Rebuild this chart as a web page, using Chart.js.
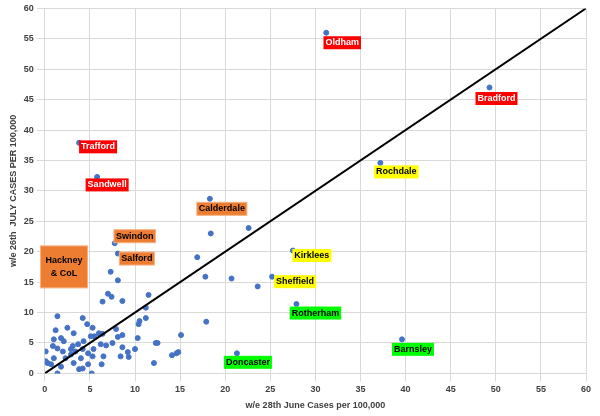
<!DOCTYPE html>
<html><head><meta charset="utf-8">
<script src="https://cdn.jsdelivr.net/npm/chart.js@4"></script>
<style>body{margin:0;background:#fff}#w{width:600px;height:416px}</style>
</head><body><div id="w"><canvas id="c"></canvas></div>
<script>
const xVals=[31.2,49.3,3.8,5.8,37.2,18.3,7.75,8.1,1.8,27.5,25.2,27.9,21.3,39.6,
18.4,22.6,16.9,17.8,20.7,23.6,17.9,15.1,14.6,14.1,12.3,12.1,11.5,11.2,10.5,
7.3,8.1,7.0,7.4,6.4,8.6,11.2,10.4,10.3,12.5,14.8,4.2,1.4,1.2,2.5,3.2,4.7,5.3,5.1,5.5,6.4,7.9,8.1,8.6,7.5,8.6,9.2,9.3,8.4,10.0,6.2,6.8,6.5,6.3,5.2,4.2,3.8,4.8,5.3,5.4,4.3,3.7,3.1,2.1,1.8,1.0,0.9,0.1,0.1,0.7,1.4,1.8,2.3,2.9,3.2,4.0,2.0,1.4,2.9,3.4,4.2,1.0,0.3,6.0,4.8];
const yVals=[56,47,37.9,32.3,34.6,28.7,21.4,19.7,15.7,20.2,15.9,11.4,3.3,5.6,
23,23.9,19.1,15.9,15.6,14.3,8.5,6.3,3.3,3.0,5.0,1.7,12.9,10.8,8.6,
16.7,15.3,13.1,12.6,11.8,11.9,9.1,8.1,5.8,5.0,3.5,9.1,9.4,7.1,7.5,6.6,8.1,7.5,6.1,6.1,6.5,7.3,6.0,6.3,5.0,4.3,3.5,2.7,2.8,4.0,4.8,4.6,2.8,1.5,0,0.8,0.7,1.5,2.8,4.0,5.3,4.8,4.5,5.3,5.8,5.6,4.5,3.6,2.0,1.5,0,1.1,2.5,3.1,1.7,2.5,3.6,4.1,4.0,3.6,4.0,2.5,1.7,6.6,3.3];
const labelNames=["Oldham","Bradford","Trafford","Sandwell","Rochdale","Calderdale","Swindon","Salford","Hackney\n& CoL","Kirklees","Sheffield","Rotherham","Doncaster","Barnsley"];
const labelFill=["#ff0000","#ff0000","#ff0000","#ff0000","#ffff00","#ed7d31","#ed7d31","#ed7d31","#ed7d31","#ffff00","#ffff00","#00ff00","#00ff00","#00ff00"];
const labelText=["#fff","#fff","#fff","#fff","#000","#000","#000","#000","#000","#000","#000","#000","#000","#000"];
const labelDx=[16,7,19,10,16,12,20,19,3,19,23,19,11,11];
const labelDy=[10,11,4,8,9,10,-7,5,-11,5,5,9,9,10];
const ticks=[0,5,10,15,20,25,30,35,40,45,50,55,60];
const pts=xVals.map((x,i)=>({x,y:yVals[i]}));
const labelPlugin={id:'lbl',afterDatasetsDraw(ch){
 const c=ch.ctx,xs=ch.scales.x,ys=ch.scales.y;
 c.save();c.font='bold 9px "Liberation Sans"';c.textAlign='center';c.textBaseline='middle';
 labelNames.forEach((n,i)=>{
  const cx=xs.getPixelForValue(xVals[i])+labelDx[i],cy=ys.getPixelForValue(yVals[i])+labelDy[i];
  const lines=n.split('\n');
  const w=Math.max(...lines.map(l=>c.measureText(l).width))+(lines.length>1?10:4);
  const h=lines.length>1?42:13;
  c.fillStyle=labelFill[i];c.fillRect(cx-w/2,cy-h/2,w,h);
  if(labelFill[i]=="#ed7d31"){c.strokeStyle='#f4b183';c.lineWidth=1;c.strokeRect(cx-w/2,cy-h/2,w,h);}
  c.fillStyle=labelText[i];
  lines.forEach((l,k)=>c.fillText(l,cx,cy+(k-(lines.length-1)/2)*13));
 });c.restore();}};
new Chart(document.getElementById('c'),{type:'scatter',
 data:{datasets:[
  {data:pts,backgroundColor:'#4472c4',borderColor:'#4472c4',pointRadius:2.5,order:2},
  {type:'line',data:[{x:0,y:0},{x:60,y:60}],borderColor:'#000',borderWidth:2,pointRadius:0,order:1}]},
 options:{responsive:true,maintainAspectRatio:false,animation:false,
  layout:{padding:{top:7,right:14,left:6,bottom:3}},
  plugins:{legend:{display:false},tooltip:{enabled:false}},
  scales:{
   x:{type:'linear',min:0,max:60,afterBuildTicks:a=>{a.ticks=ticks.map(v=>({value:v}))},
      grid:{color:'#d9d9d9'},border:{color:'#d9d9d9'},
      ticks:{color:'#404040',font:{size:9,weight:'bold',family:'Liberation Sans'},maxRotation:0},
      title:{display:true,text:'w/e 28th June Cases per 100,000',color:'#404040',font:{size:9,weight:'bold',family:'Liberation Sans'},padding:2}},
   y:{type:'linear',min:0,max:60,afterBuildTicks:a=>{a.ticks=ticks.map(v=>({value:v}))},
      grid:{color:'#d9d9d9'},border:{color:'#d9d9d9'},
      ticks:{color:'#404040',font:{size:9,weight:'bold',family:'Liberation Sans'}},
      title:{display:true,text:'w/e 26th  JULY CASES PER 100,000',color:'#404040',font:{size:9,weight:'bold',family:'Liberation Sans'},padding:2}}}},
 plugins:[labelPlugin]});
</script></body></html>
